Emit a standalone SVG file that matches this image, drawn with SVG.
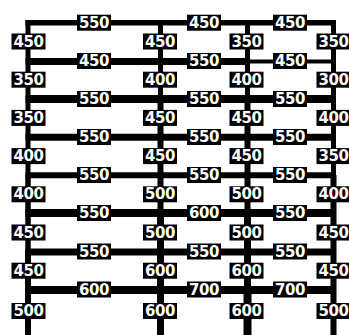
<svg xmlns="http://www.w3.org/2000/svg" width="349" height="335" viewBox="0 0 349 335">
<style>
.m{stroke:#000;fill:none;stroke-linecap:butt}
.b{fill:#000}
.t{fill:#fff;font-family:"DejaVu Sans",sans-serif;font-weight:bold;font-size:15px;letter-spacing:-0.4px;text-anchor:middle;dominant-baseline:central}
</style>
<rect width="349" height="335" fill="#fff"/>
<g id="connectors">
<path class="m" stroke-width="5" d="M28 20V99M28 99V175"/>
<path class="m" stroke-width="5.5" d="M28 175V251"/>
<path class="m" stroke-width="6" d="M28 251V335"/>
<path class="m" stroke-width="5" d="M160.5 20V99"/>
<path class="m" stroke-width="6" d="M160.5 99V213"/>
<path class="m" stroke-width="7" d="M160.5 213V335"/>
<path class="m" stroke-width="5" d="M247.5 20V99"/>
<path class="m" stroke-width="6" d="M247.5 99V213"/>
<path class="m" stroke-width="7" d="M247.5 213V290"/>
<path class="m" stroke-width="8" d="M247.5 290V335"/>
<path class="m" stroke-width="5" d="M333.5 20V175"/>
<path class="m" stroke-width="6" d="M333.5 175V335"/>
<path class="m" stroke-width="5.5" d="M25.5 22.7H336"/>
<path class="m" stroke-width="7" d="M25.5 61.5H247.5"/>
<path class="m" stroke-width="4" d="M247.5 61.5H336"/>
<path class="m" stroke-width="8" d="M25.5 99H336"/>
<path class="m" stroke-width="7" d="M25.5 137.3H336"/>
<path class="m" stroke-width="6" d="M25.5 175.3H336"/>
<path class="m" stroke-width="8" d="M25.5 213H336"/>
<path class="m" stroke-width="7" d="M25.5 252H336"/>
<path class="m" stroke-width="8" d="M25.5 290H336"/>
</g>
<g id="b1-1"><rect class="b" x="77" y="14.7" width="34" height="16"/><text class="t" x="94" y="22.7">550</text></g>
<g id="b1-2"><rect class="b" x="187" y="14.7" width="34" height="16"/><text class="t" x="204" y="22.7">450</text></g>
<g id="b1-3"><rect class="b" x="273" y="14.7" width="34" height="16"/><text class="t" x="290" y="22.7">450</text></g>
<g id="b2-1"><rect class="b" x="77" y="53" width="34" height="16"/><text class="t" x="94" y="61">450</text></g>
<g id="b2-2"><rect class="b" x="187" y="53" width="34" height="16"/><text class="t" x="204" y="61">550</text></g>
<g id="b2-3"><rect class="b" x="273" y="53" width="34" height="16"/><text class="t" x="290" y="61">450</text></g>
<g id="b3-1"><rect class="b" x="77" y="91" width="34" height="16"/><text class="t" x="94" y="99">550</text></g>
<g id="b3-2"><rect class="b" x="187" y="91" width="34" height="16"/><text class="t" x="204" y="99">550</text></g>
<g id="b3-3"><rect class="b" x="273" y="91" width="34" height="16"/><text class="t" x="290" y="99">550</text></g>
<g id="b4-1"><rect class="b" x="77" y="129" width="34" height="16"/><text class="t" x="94" y="137">550</text></g>
<g id="b4-2"><rect class="b" x="187" y="129" width="34" height="16"/><text class="t" x="204" y="137">550</text></g>
<g id="b4-3"><rect class="b" x="273" y="129" width="34" height="16"/><text class="t" x="290" y="137">550</text></g>
<g id="b5-1"><rect class="b" x="77" y="167" width="34" height="16"/><text class="t" x="94" y="175">550</text></g>
<g id="b5-2"><rect class="b" x="187" y="167" width="34" height="16"/><text class="t" x="204" y="175">550</text></g>
<g id="b5-3"><rect class="b" x="273" y="167" width="34" height="16"/><text class="t" x="290" y="175">550</text></g>
<g id="b6-1"><rect class="b" x="77" y="205" width="34" height="16"/><text class="t" x="94" y="213">550</text></g>
<g id="b6-2"><rect class="b" x="187" y="205" width="34" height="16"/><text class="t" x="204" y="213">600</text></g>
<g id="b6-3"><rect class="b" x="273" y="205" width="34" height="16"/><text class="t" x="290" y="213">550</text></g>
<g id="b7-1"><rect class="b" x="77" y="243.5" width="34" height="16"/><text class="t" x="94" y="251.5">550</text></g>
<g id="b7-2"><rect class="b" x="187" y="243.5" width="34" height="16"/><text class="t" x="204" y="251.5">550</text></g>
<g id="b7-3"><rect class="b" x="273" y="243.5" width="34" height="16"/><text class="t" x="290" y="251.5">550</text></g>
<g id="b8-1"><rect class="b" x="77" y="281.5" width="34" height="16"/><text class="t" x="94" y="289.5">600</text></g>
<g id="b8-2"><rect class="b" x="187" y="281.5" width="34" height="16"/><text class="t" x="204" y="289.5">700</text></g>
<g id="b8-3"><rect class="b" x="273" y="281.5" width="34" height="16"/><text class="t" x="290" y="289.5">700</text></g>
<g id="c1-1"><rect class="b" x="11.5" y="33.5" width="34" height="16"/><text class="t" x="28.5" y="41.5">450</text></g>
<g id="c1-2"><rect class="b" x="143" y="33.5" width="34" height="16"/><text class="t" x="160" y="41.5">450</text></g>
<g id="c1-3"><rect class="b" x="229.5" y="33.5" width="34" height="16"/><text class="t" x="246.5" y="41.5">350</text></g>
<g id="c1-4"><rect class="b" x="316.5" y="33.5" width="34" height="16"/><text class="t" x="333.5" y="41.5">350</text></g>
<g id="c2-1"><rect class="b" x="11.5" y="71.7" width="34" height="16"/><text class="t" x="28.5" y="79.7">350</text></g>
<g id="c2-2"><rect class="b" x="143" y="71.7" width="34" height="16"/><text class="t" x="160" y="79.7">400</text></g>
<g id="c2-3"><rect class="b" x="229.5" y="71.7" width="34" height="16"/><text class="t" x="246.5" y="79.7">400</text></g>
<g id="c2-4"><rect class="b" x="316.5" y="71.7" width="34" height="16"/><text class="t" x="333.5" y="79.7">300</text></g>
<g id="c3-1"><rect class="b" x="11.5" y="109.9" width="34" height="16"/><text class="t" x="28.5" y="117.9">350</text></g>
<g id="c3-2"><rect class="b" x="143" y="109.9" width="34" height="16"/><text class="t" x="160" y="117.9">450</text></g>
<g id="c3-3"><rect class="b" x="229.5" y="109.9" width="34" height="16"/><text class="t" x="246.5" y="117.9">450</text></g>
<g id="c3-4"><rect class="b" x="316.5" y="109.9" width="34" height="16"/><text class="t" x="333.5" y="117.9">400</text></g>
<g id="c4-1"><rect class="b" x="11.5" y="148.1" width="34" height="16"/><text class="t" x="28.5" y="156.1">400</text></g>
<g id="c4-2"><rect class="b" x="143" y="148.1" width="34" height="16"/><text class="t" x="160" y="156.1">450</text></g>
<g id="c4-3"><rect class="b" x="229.5" y="148.1" width="34" height="16"/><text class="t" x="246.5" y="156.1">450</text></g>
<g id="c4-4"><rect class="b" x="316.5" y="148.1" width="34" height="16"/><text class="t" x="333.5" y="156.1">350</text></g>
<g id="c5-1"><rect class="b" x="11.5" y="186.3" width="34" height="16"/><text class="t" x="28.5" y="194.3">400</text></g>
<g id="c5-2"><rect class="b" x="143" y="186.3" width="34" height="16"/><text class="t" x="160" y="194.3">500</text></g>
<g id="c5-3"><rect class="b" x="229.5" y="186.3" width="34" height="16"/><text class="t" x="246.5" y="194.3">500</text></g>
<g id="c5-4"><rect class="b" x="316.5" y="186.3" width="34" height="16"/><text class="t" x="333.5" y="194.3">400</text></g>
<g id="c6-1"><rect class="b" x="11.5" y="224.5" width="34" height="16"/><text class="t" x="28.5" y="232.5">450</text></g>
<g id="c6-2"><rect class="b" x="143" y="224.5" width="34" height="16"/><text class="t" x="160" y="232.5">500</text></g>
<g id="c6-3"><rect class="b" x="229.5" y="224.5" width="34" height="16"/><text class="t" x="246.5" y="232.5">500</text></g>
<g id="c6-4"><rect class="b" x="316.5" y="224.5" width="34" height="16"/><text class="t" x="333.5" y="232.5">450</text></g>
<g id="c7-1"><rect class="b" x="11.5" y="262.7" width="34" height="16"/><text class="t" x="28.5" y="270.7">450</text></g>
<g id="c7-2"><rect class="b" x="143" y="262.7" width="34" height="16"/><text class="t" x="160" y="270.7">600</text></g>
<g id="c7-3"><rect class="b" x="229.5" y="262.7" width="34" height="16"/><text class="t" x="246.5" y="270.7">600</text></g>
<g id="c7-4"><rect class="b" x="316.5" y="262.7" width="34" height="16"/><text class="t" x="333.5" y="270.7">450</text></g>
<g id="c8-1"><rect class="b" x="11.5" y="303" width="34" height="16"/><text class="t" x="28.5" y="311">500</text></g>
<g id="c8-2"><rect class="b" x="143" y="303" width="34" height="16"/><text class="t" x="160" y="311">600</text></g>
<g id="c8-3"><rect class="b" x="229.5" y="303" width="34" height="16"/><text class="t" x="246.5" y="311">600</text></g>
<g id="c8-4"><rect class="b" x="316.5" y="303" width="34" height="16"/><text class="t" x="333.5" y="311">500</text></g>
</svg>
